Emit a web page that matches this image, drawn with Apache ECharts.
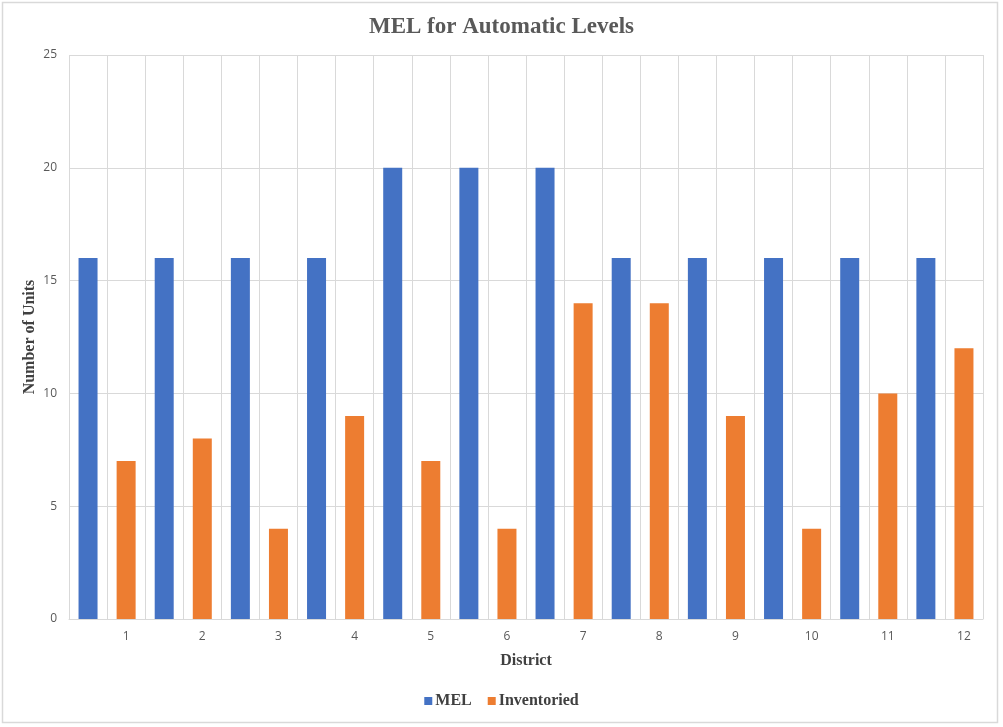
<!DOCTYPE html>
<html>
<head>
<meta charset="utf-8">
<script src="https://cdn.jsdelivr.net/npm/echarts@6/dist/echarts.min.js"></script>
<style>
html,body{margin:0;padding:0;background:#fff;}
#c{width:1003px;height:727px;}
</style>
</head>
<body>
<div id="c"></div>
<script>
const districts = ['1','2','3','4','5','6','7','8','9','10','11','12'];
const melValues = [16,16,16,16,20,20,20,16,16,16,16,16];
const inventoriedValues = [7,8,4,9,7,4,14,14,9,4,10,12];
const yTicks = [0,5,10,15,20,25];

// Each district takes two slots: MEL slot (unlabelled) then Inventoried slot (labelled)
const slots = [];
const melData = [];
const invData = [];
districts.forEach((d, i) => {
  slots.push('m' + d); melData.push(melValues[i]); invData.push('-');
  slots.push(d); melData.push('-'); invData.push(inventoriedValues[i]);
});

const chart = echarts.init(document.getElementById('c'), null, {renderer:'canvas'});
const serif = '"Liberation Serif", "DejaVu Serif", serif';
const sans = '"Open Sans", "Liberation Sans", sans-serif';
chart.setOption({
  animation:false,
  backgroundColor:'#fff',
  title:{
    text:'MEL for Automatic Levels',
    left:'center', top:11,
    textStyle:{fontFamily:serif, fontWeight:'bold', fontSize:23, color:'#595959'}
  },
  legend:{
    bottom:13, left:'center',
    icon:'rect', itemWidth:8, itemHeight:8, itemGap:16,
    textStyle:{fontFamily:serif, fontWeight:'bold', fontSize:16, color:'#404040', padding:[0,0,0,-2]},
    data:['MEL','Inventoried']
  },
  grid:{left:69, right:20, top:55, bottom:108, containLabel:false},
  xAxis:{
    type:'category',
    data:slots,
    name:'District', nameLocation:'middle', nameGap:34,
    nameTextStyle:{fontFamily:serif, fontWeight:'bold', fontSize:16, color:'#404040'},
    axisLine:{show:true, lineStyle:{color:'#d9d9d9', width:1}},
    axisTick:{show:false},
    axisLabel:{interval:0, margin:12, fontFamily:sans, fontSize:12, color:'#595959',
      formatter:v => v.charAt(0) === 'm' ? '' : v},
    splitLine:{show:true, interval:0, lineStyle:{color:'#d9d9d9', width:1}}
  },
  yAxis:{
    type:'value', min:yTicks[0], max:yTicks[yTicks.length-1], interval:5,
    name:'Number of Units', nameLocation:'middle', nameGap:31, nameMoveOverlap:false,
    nameTextStyle:{fontFamily:serif, fontWeight:'bold', fontSize:16, color:'#404040'},
    axisLine:{show:false}, axisTick:{show:false},
    axisLabel:{margin:12, fontFamily:sans, fontSize:12, color:'#595959'},
    splitLine:{show:true, lineStyle:{color:'#d9d9d9', width:1}}
  },
  series:[
    {name:'MEL', type:'bar', data:melData, barWidth:19, barGap:'-100%', itemStyle:{color:'#4472C4'}},
    {name:'Inventoried', type:'bar', data:invData, barWidth:19, barGap:'-100%', itemStyle:{color:'#ED7D31'}}
  ],
  graphic:[{
    type:'rect', z:-1, silent:true,
    shape:{x:2.5, y:2.5, width:995, height:720},
    style:{fill:null, stroke:'#d9d9d9', lineWidth:1.5}
  }]
});
</script>
</body>
</html>
